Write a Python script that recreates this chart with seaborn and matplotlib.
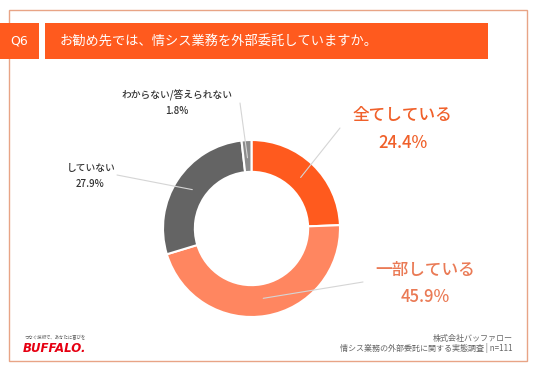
import matplotlib
matplotlib.use("Agg")
import matplotlib.pyplot as plt
import seaborn as sns
import numpy as np
from matplotlib.patches import Rectangle

# data
labels = ["全てしている", "一部している", "していない", "わからない/答えられない"]
values = [24.4, 45.9, 27.9, 1.8]
colors = ["#FF5A1E", "#FF8660", "#646464", "#8C8C8C"]
label_colors = ["#F0602A", "#EA7A55", "#333333", "#333333"]
label_sizes = [12, 12, 7, 7]
title = "お勧め先では、情シス業務を外部委託していますか。"
qnum = "Q6"
footer1 = "株式会社バッファロー"
footer2 = "情シス業務の外部委託に関する実態調査 | n=111"

sns.set_theme(style="white")
plt.rcParams["font.family"] = ["Noto Sans CJK JP", "DejaVu Sans"]

W, H = 536, 371
fig = plt.figure(figsize=(W / 100, H / 100), dpi=100)
ax = fig.add_axes([0, 0, 1, 1])

def top(y):
    return H - y

# frame and header
ax.add_patch(Rectangle((9, top(361)), 518, 351, fill=False, ec="#E8A486", lw=1))
ax.add_patch(Rectangle((0, top(59)), 39, 36, fc="#FF5A1E", ec="none"))
ax.add_patch(Rectangle((45, top(59)), 443, 36, fc="#FF5A1E", ec="none"))
ax.text(19, top(41), qnum, color="white", fontsize=9, ha="center", va="center",
        family=["DejaVu Sans"])
ax.text(60, top(42), title, color="white", fontsize=9.5, ha="left", va="center")

# donut
cx, cy, r = 251.5, top(228.5), 88.5
wedges, _ = ax.pie(values, colors=colors, startangle=90, counterclock=False,
                   center=(cx, cy), radius=r, frame=True,
                   wedgeprops=dict(width=r * 0.36, edgecolor="white", linewidth=1.5))
ax.set_xlim(0, W)
ax.set_ylim(0, H)
ax.set_aspect("equal")
ax.axis("off")

# label placement (text centre, pixel coords from top) and leader ends
label_pos = [(402, 115), (425, 270), (91, 168), (177, 95)]
pct_pos = [(403, 143), (425, 297), (90, 184), (177, 111)]
leader_end = [(340, 128), (363, 282), (117, 175), (240, 103)]

for w, lab, v, lc, fs, lp, pp, le in zip(wedges, labels, values, label_colors,
                                           label_sizes, label_pos, pct_pos, leader_end):
    ang = np.deg2rad((w.theta1 + w.theta2) / 2)
    sx = cx + 0.8 * r * np.cos(ang)
    sy = cy + 0.8 * r * np.sin(ang)
    ax.plot([sx, le[0]], [sy, top(le[1])], color="#D5D5D5", lw=0.8, zorder=3)
    ax.text(lp[0], top(lp[1]), lab, color=lc, fontsize=fs, ha="center", va="center",
            fontweight="medium")
    ax.text(pp[0], top(pp[1]), f"{v}%", color=lc, fontsize=fs, ha="center", va="center",
            fontweight="medium")

# footer
ax.text(25, top(338), "つなぐ技術で、あなたに喜びを", fontsize=3.2, color="#555555",
        ha="left", va="center")
ax.text(23, top(349), "BUFFALO.", fontsize=8.5, color="#E60012", fontweight="bold",
        fontstyle="italic", ha="left", va="center", family=["DejaVu Sans"])
ax.text(513, top(338), footer1, fontsize=5.8, color="#666666", ha="right", va="center")
ax.text(513, top(348), footer2, fontsize=5.8, color="#666666", ha="right", va="center")

fig.savefig("out.png", dpi=100, facecolor="white")
